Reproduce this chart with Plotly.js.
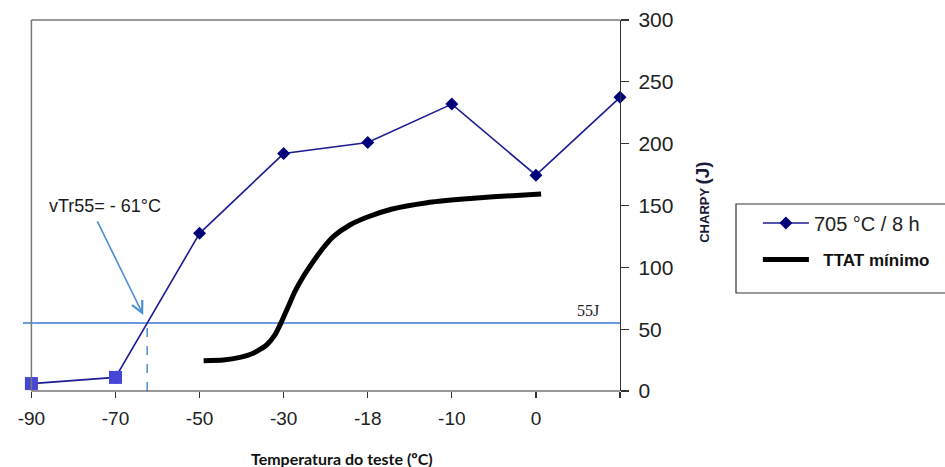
<!DOCTYPE html>
<html>
<head>
<meta charset="utf-8">
<script src="https://cdn.plot.ly/plotly-3.0.1.min.js"></script>
<style>html,body{margin:0;padding:0;background:#fff;}#chart{width:945px;height:467px;}</style>
</head>
<body>
<div id="chart"></div>
<script>
// ---- data ----
const categories = ['-90', '-70', '-50', '-30', '-18', '-10', '0', ''];
const positions = categories.map((c, i) => i);
const charpy = [6, 11, 127.5, 192, 201, 232, 174.5, 237.5];
const lowTempCount = 2; // first two points drawn as squares
const ttatPos = [2.048, 2.282, 2.48, 2.638, 2.797, 2.896, 2.975, 3.054, 3.133, 3.232, 3.351, 3.451, 3.59, 3.787, 3.989, 4.28, 4.707, 5.099, 5.492, 6.062];
const ttatVal = [24.5, 25.1, 27.2, 30.5, 37.2, 45.3, 56.0, 68.2, 80.3, 92.4, 104.6, 114.0, 124.8, 134.2, 140.5, 147, 152.3, 155.0, 157.1, 159.3];
const ref55 = 55;
const refLinePos = [-0.1, 7];
const vtrPos = 1.377; // -61 °C on the category scale
const seriesName = '705 °C / 8 h';
const ttatName = 'TTAT mínimo';

const FONT = 'Liberation Sans, Arial, sans-serif';

const traces = [
  { x: refLinePos, y: refLinePos.map(() => ref55), mode: 'lines', line: {color: '#3d7ad6', width: 1.6}, showlegend: false, hoverinfo: 'skip' },
  { x: [vtrPos, vtrPos], y: [0, ref55], mode: 'lines', line: {color: '#5896d6', width: 1.6, dash: 'dash'}, showlegend: false, hoverinfo: 'skip' },
  { x: ttatPos, y: ttatVal, mode: 'lines', name: '&nbsp;&nbsp;<b>' + ttatName + '</b>', line: {color: '#000', width: 5, shape: 'spline', smoothing: 0.6}, legend: 'legend2' },
  { x: positions, y: charpy, mode: 'lines+markers', name: seriesName, line: {color: '#1c1c94', width: 1.6}, marker: {symbol: 'diamond', size: 10, color: '#00007a'}, cliponaxis: false, legend: 'legend' },
  { x: positions.slice(0, lowTempCount), y: charpy.slice(0, lowTempCount), mode: 'markers', marker: {symbol: 'square', size: 13, color: '#4545d6'}, cliponaxis: false, showlegend: false }
];

const layout = {
  width: 945, height: 467,
  margin: {l: 23, r: 325, t: 20, b: 76},
  paper_bgcolor: '#fff', plot_bgcolor: '#fff',
  font: {family: FONT, color: '#222'},
  xaxis: {
    range: [-0.1, 7], tickvals: positions, ticktext: categories,
    showgrid: false, zeroline: false, showline: false,
    ticks: 'outside', ticklen: 6, tickwidth: 1.2, tickcolor: '#333',
    tickfont: {family: FONT, size: 19, color: '#222'}, ticklabelstandoff: 4
  },
  yaxis: {
    side: 'right', range: [0, 300], dtick: 50,
    showgrid: false, zeroline: false, showline: true, linecolor: '#333', linewidth: 1.2,
    ticks: 'outside', ticklen: 8, tickwidth: 1.2, tickcolor: '#333',
    tickfont: {family: FONT, size: 21, color: '#222'}, ticklabelstandoff: 5
  },
  shapes: [
    {type: 'line', xref: 'x', yref: 'paper', x0: 0, x1: 7, y0: 0, y1: 0, line: {color: '#333', width: 1.2}},
    {type: 'line', xref: 'x', yref: 'paper', x0: 0, x1: 0, y0: 0, y1: 1, line: {color: '#777', width: 1.5}},
    {type: 'line', xref: 'x', yref: 'paper', x0: 0, x1: 7, y0: 1, y1: 1, line: {color: '#777', width: 1.5}},
    {type: 'rect', xref: 'paper', yref: 'paper', x0: 1.1943, x1: 1.56, y0: 0.2642, y1: 0.504, line: {color: '#333', width: 1.2}, fillcolor: 'rgba(0,0,0,0)'}
  ],
  annotations: [
    {xref: 'x', yref: 'y', x: 0.875, y: 149.6, text: 'vTr55= - 61°C', showarrow: false, font: {family: FONT, size: 18, color: '#1a1a1a'}},
    {xref: 'x', yref: 'y', x: 1.33, y: 61.5, text: '', showarrow: true, axref: 'pixel', ayref: 'pixel', ax: -46.6, ay: -95, arrowhead: 5, arrowsize: 1.4, arrowwidth: 1.6, arrowcolor: '#4b8fd3', standoff: 0},
    {xref: 'x', yref: 'y', x: 6.616, y: 65.5, text: '55J', showarrow: false, font: {family: 'Liberation Serif, serif', size: 16, color: '#222'}},
    {xref: 'paper', yref: 'paper', x: 0.534, y: -0.1806, xanchor: 'center', yanchor: 'middle', text: '<b>Temperatura do teste (ºC)</b>', showarrow: false, font: {family: 'Lato, sans-serif', size: 16, color: '#111'}},
    {xref: 'paper', yref: 'paper', x: 1.139, y: 0.51, xanchor: 'center', yanchor: 'middle', textangle: -90, text: '<b><span style="font-size:13px">CHARPY</span> <span style="font-size:19px">(J)</span></b>', showarrow: false, font: {family: FONT, color: '#1a1a3a'}}
  ],
  legend: {xref: 'container', yref: 'container', x: 0.802, y: 0.5225, xanchor: 'left', yanchor: 'middle', bgcolor: 'rgba(0,0,0,0)', borderwidth: 0, itemwidth: 46, font: {family: FONT, size: 20, color: '#222'}},
  legend2: {xref: 'container', yref: 'container', x: 0.802, y: 0.4433, xanchor: 'left', yanchor: 'middle', bgcolor: 'rgba(0,0,0,0)', borderwidth: 0, itemwidth: 46, font: {family: FONT, size: 17, color: '#111'}},
  showlegend: true
};

Plotly.newPlot('chart', traces, layout, {displayModeBar: false, staticPlot: true});
</script>
</body>
</html>
